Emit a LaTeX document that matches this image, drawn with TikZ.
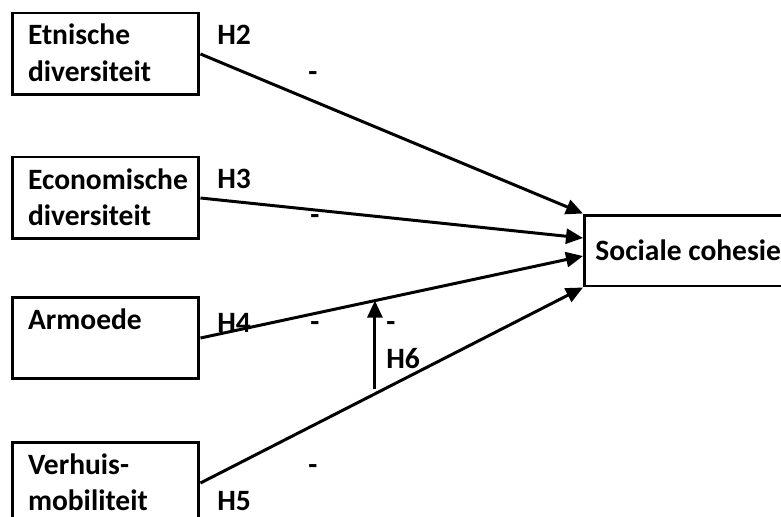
\documentclass[tikz,border=0pt]{standalone}
\usepackage{fontspec}
\setmainfont{Carlito}
\usepackage{tikz}
\usetikzlibrary{positioning,calc,arrows.meta}

\begin{document}
\begin{tikzpicture}[x=0.02cm, y=-0.02cm,
    font=\fontsize{16.8}{21}\selectfont\bfseries,
    box/.style={draw, line width=1.7pt, anchor=base, minimum width=3.74cm, inner xsep=0.32cm, inner ysep=0pt,
        text width=3.1cm, align=left, text height=0.64cm, text depth=1.0cm},
    arrow/.style={line width=1.7pt, -{Triangle[length=0.34cm, width=0.3cm]}},
    lbl/.style={anchor=base, inner sep=0pt}]
    \useasboundingbox (0,0) rectangle (781,517);

    \node[box] (etnisch) at (105.5,45) {Etnische\\diversiteit};
    \node[box] (economisch) at (105.5,189) {Economische\\diversiteit};
    \node[box] (armoede) at (105.5,329) {Armoede\\~};
    \node[box] (verhuis) at (105.5,474) {Verhuis-\\mobiliteit};
    \node[draw, line width=1.7pt, anchor=west, minimum height=1.42cm,
        inner xsep=0.22cm, text width=3.9cm,
        execute at begin node={\spaceskip 0pt\relax}] (sociale) at (583,250.5) {Sociale cohesie};

    \draw[arrow] (etnisch.east) -- (sociale.north west);
    \draw[arrow] (economisch.east) -- ([yshift=0.25cm]sociale.west);
    \draw[arrow] (armoede.east) -- ([yshift=-0.11cm]sociale.west) coordinate[pos=0.456] (h6top);
    \draw[arrow] (verhuis.east) -- (sociale.south west) coordinate[pos=0.456] (h6bot);
    \draw[arrow, shorten <=0.1cm] (h6bot) -- (h6top);

    \node[lbl, anchor=base west] (h2) at (217,45) {H2};
    \node[lbl] (min2) at (313,82) {-};
    \node[lbl, anchor=base west] (h3) at (217,188) {H3};
    \node[lbl] (min3) at (315,224) {-};
    \node[lbl, anchor=base west] (h4) at (217,332) {H4};
    \node[lbl] (min4) at (315,331) {-};
    \node[lbl] (min6) at (391,331) {-};
    \node[lbl, anchor=base west] (h6) at (386,368) {H6};
    \node[lbl] (min5) at (313,474) {-};
    \node[lbl, anchor=base west] (h5) at (217,510) {H5};
\end{tikzpicture}
\end{document}
